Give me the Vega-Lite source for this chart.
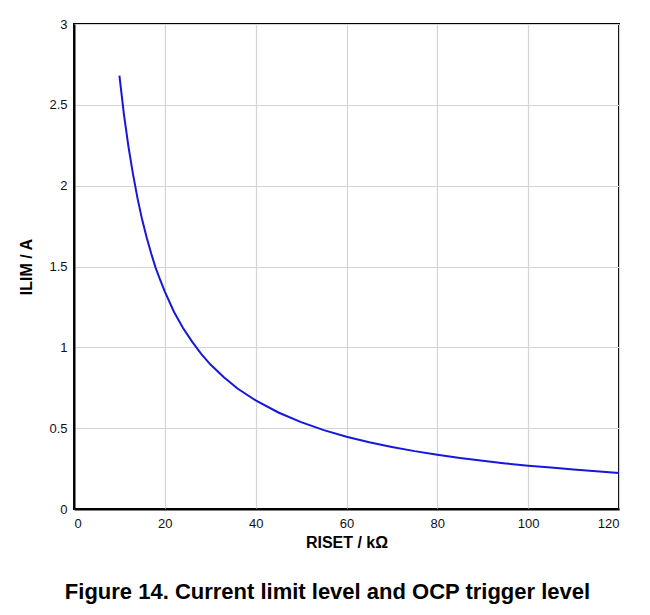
{
  "$schema": "https://vega.github.io/schema/vega-lite/v6.json",
  "width": 545,
  "height": 485,
  "autosize": {"type": "none"},
  "padding": {"left": 74, "top": 24, "right": 31, "bottom": 106},
  "background": "white",
  "config": {
    "font": "Liberation Sans",
    "view": {"stroke": "black", "strokeWidth": 2},
    "axis": {
      "domainColor": "black",
      "domainWidth": 2,
      "ticks": false,
      "gridColor": "#d4d4d4",
      "gridWidth": 1.2,
      "labelFont": "Liberation Sans",
      "labelFontSize": 13,
      "labelColor": "#111",
      "titleFont": "Liberation Sans",
      "titleFontSize": 16,
      "titleFontWeight": "bold",
      "titleColor": "black"
    }
  },
  "title": {
    "text": "Figure 14. Current limit level and OCP trigger level",
    "orient": "bottom",
    "anchor": "middle",
    "fontSize": 22,
    "fontWeight": "bold",
    "font": "Liberation Sans",
    "color": "black",
    "offset": 32,
    "dx": -19
  },
  "data": {
    "values": [
      {"r": 10, "i": 2.68},
      {"r": 11, "i": 2.44},
      {"r": 12, "i": 2.24},
      {"r": 13, "i": 2.07},
      {"r": 14, "i": 1.92},
      {"r": 15, "i": 1.79},
      {"r": 16, "i": 1.68},
      {"r": 17, "i": 1.58},
      {"r": 18, "i": 1.49},
      {"r": 19, "i": 1.415},
      {"r": 20, "i": 1.345},
      {"r": 22, "i": 1.22},
      {"r": 24, "i": 1.12},
      {"r": 26, "i": 1.035},
      {"r": 28, "i": 0.96},
      {"r": 30, "i": 0.895},
      {"r": 33, "i": 0.815},
      {"r": 36, "i": 0.745},
      {"r": 40, "i": 0.672},
      {"r": 45, "i": 0.597},
      {"r": 50, "i": 0.537},
      {"r": 55, "i": 0.488},
      {"r": 60, "i": 0.447},
      {"r": 65, "i": 0.413},
      {"r": 70, "i": 0.384},
      {"r": 75, "i": 0.358},
      {"r": 80, "i": 0.336},
      {"r": 85, "i": 0.316},
      {"r": 90, "i": 0.298},
      {"r": 95, "i": 0.282},
      {"r": 100, "i": 0.268},
      {"r": 105, "i": 0.256},
      {"r": 110, "i": 0.244},
      {"r": 115, "i": 0.233},
      {"r": 120, "i": 0.222}
    ]
  },
  "mark": {"type": "line", "color": "#1616dc", "strokeWidth": 2},
  "encoding": {
    "x": {
      "field": "r",
      "type": "quantitative",
      "scale": {"domain": [0, 120], "nice": false},
      "axis": {"values": [0, 20, 40, 60, 80, 100, 120], "title": "RISET / kΩ", "labelPadding": 8, "titlePadding": 4, "grid": true}
    },
    "y": {
      "field": "i",
      "type": "quantitative",
      "scale": {"domain": [0, 3], "nice": false},
      "axis": {"values": [0, 0.5, 1, 1.5, 2, 2.5, 3], "format": "~g", "title": "ILIM / A", "labelPadding": 7, "titlePadding": 14, "grid": true}
    }
  }
}
